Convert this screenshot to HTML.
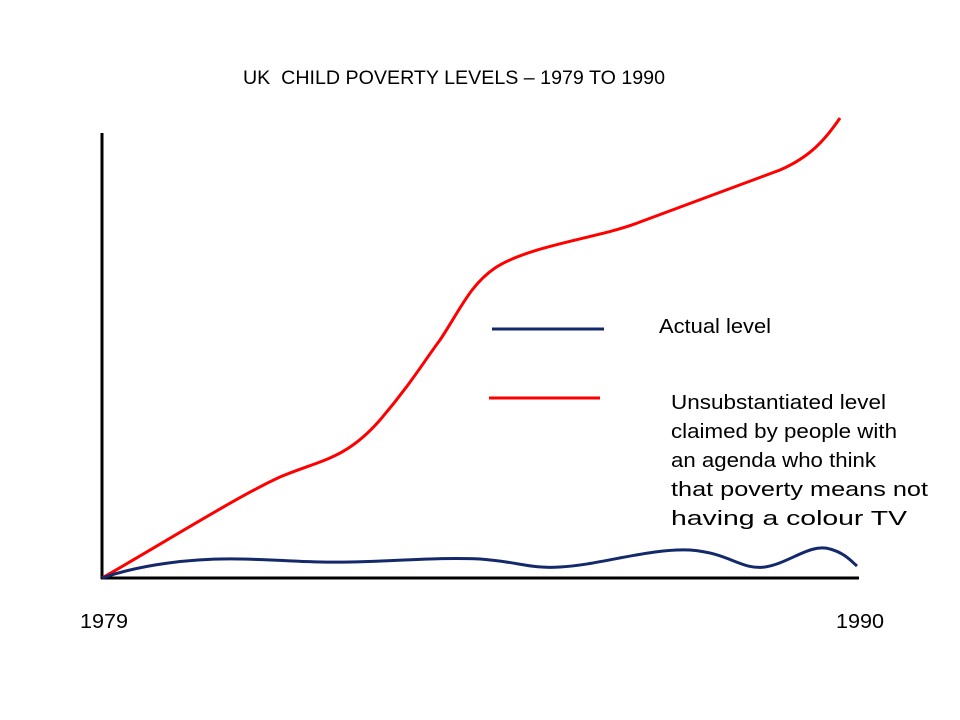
<!DOCTYPE html>
<html><head><meta charset="utf-8"><style>
html,body{margin:0;padding:0;background:#fff;}
svg{display:block;}
text{font-family:"Liberation Sans",sans-serif;fill:#000;}
</style></head><body>
<svg width="960" height="720" viewBox="0 0 960 720">
<text x="243" y="84" font-size="19" textLength="422" lengthAdjust="spacingAndGlyphs" xml:space="preserve">UK  CHILD POVERTY LEVELS – 1979 TO 1990</text>
<line x1="102" y1="133" x2="102" y2="579" stroke="#000" stroke-width="3"/>
<line x1="101" y1="578" x2="859" y2="578" stroke="#000" stroke-width="3"/>
<path d="M102,578 C160,545 240,495 280,477 C320,460 345,460 380,420 C410,385 425,360 440,340 C460,310 470,285 495,268 C530,245 600,238 640,222 C690,203 740,185 780,170 C810,157 825,140 840,118" fill="none" stroke="#f00" stroke-width="3"/>
<path d="M102,578 C140,565 190,558 240,559 C290,560 310,563 350,562 C400,561 440,557 480,559 C520,562 530,569 560,567 C600,565 650,548 690,550 C730,553 740,570 765,567 C790,563 810,543 830,549 C845,553 852,562 857,566" fill="none" stroke="#13296b" stroke-width="3"/>
<line x1="492" y1="329" x2="604" y2="329" stroke="#13296b" stroke-width="3"/>
<line x1="489" y1="398" x2="600" y2="398" stroke="#f00" stroke-width="3"/>
<text x="659" y="333" font-size="20" textLength="112" lengthAdjust="spacingAndGlyphs">Actual level</text>
<g font-size="20">
<text x="671" y="409" textLength="215" lengthAdjust="spacingAndGlyphs">Unsubstantiated level</text>
<text x="671" y="438" textLength="226" lengthAdjust="spacingAndGlyphs">claimed by people with</text>
<text x="671" y="467" textLength="205" lengthAdjust="spacingAndGlyphs">an agenda who think</text>
<text x="671" y="496" textLength="257" lengthAdjust="spacingAndGlyphs">that poverty means not</text>
<text x="671" y="525" textLength="236" lengthAdjust="spacingAndGlyphs">having a colour TV</text>
</g>
<text x="80" y="628" font-size="20" textLength="48" lengthAdjust="spacingAndGlyphs">1979</text>
<text x="836" y="628" font-size="20" textLength="48" lengthAdjust="spacingAndGlyphs">1990</text>
</svg>
</body></html>
